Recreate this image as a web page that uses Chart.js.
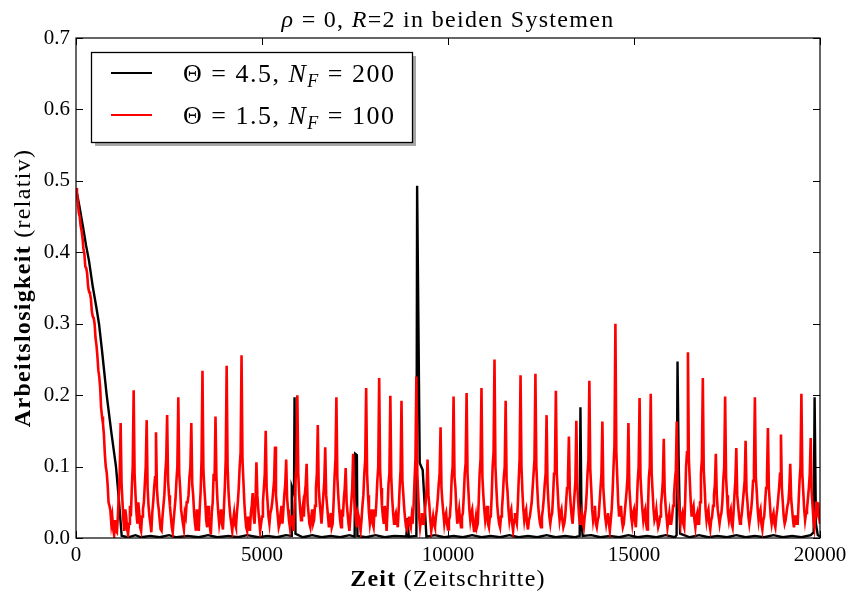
<!DOCTYPE html>
<html>
<head>
<meta charset="utf-8">
<script src="https://cdn.jsdelivr.net/npm/chart.js@4.4.0/dist/chart.umd.min.js"></script>
<style>
  html, body { margin: 0; padding: 0; background: #ffffff; }
  #wrap { width: 849px; height: 596px; position: relative; }
</style>
</head>
<body>
<div id="wrap"><canvas id="c" width="849" height="596"></canvas></div>
<script>
// Unemployment share over time for two parameter sets.

// Red run: one value every 25 time steps, from t = 0 to t = 20000 (40 values per row of 1000 steps).
const redStep = 25;
const redValues = [
  0.49,0.482,0.47,0.455,0.45,0.437,0.43,0.42,0.405,0.398,0.38,0.378,0.37,0.352,0.345,0.342,0.335,0.318,0.31,0.308,
  0.30,0.28,0.27,0.255,0.235,0.226,0.21,0.182,0.17,0.16,0.145,0.118,0.10,0.092,0.075,0.05,0.045,0.038,0.02,0.03,

  0.012,0.004,0.025,0.01,0.008,0.03,0.06,0.09,0.161,0.075,0.05,0.025,0.01,0.04,0.03,0.012,0.005,0.02,0.045,0.03,
  0.07,0.1,0.207,0.09,0.06,0.035,0.02,0.05,0.035,0.015,0.01,0.03,0.04,0.05,0.075,0.1,0.165,0.07,0.045,0.03,

  0.02,0.008,0.035,0.05,0.07,0.085,0.148,0.07,0.05,0.04,0.025,0.012,0.01,0.03,0.045,0.06,0.09,0.11,0.172,0.08,
  0.06,0.045,0.03,0.015,0.008,0.025,0.04,0.055,0.08,0.1,0.197,0.09,0.07,0.04,0.03,0.02,0.012,0.035,0.03,0.05,

  0.05,0.06,0.085,0.1,0.161,0.075,0.06,0.035,0.02,0.01,0.04,0.025,0.01,0.04,0.065,0.11,0.234,0.095,0.07,0.05,
  0.025,0.015,0.045,0.03,0.015,0.005,0.035,0.05,0.09,0.08,0.17,0.085,0.055,0.035,0.02,0.03,0.04,0.02,0.012,0.04,

  0.07,0.11,0.241,0.1,0.065,0.045,0.03,0.02,0.01,0.025,0.035,0.02,0.015,0.035,0.05,0.07,0.1,0.12,0.256,0.11,
  0.08,0.05,0.03,0.015,0.01,0.03,0.02,0.01,0.035,0.045,0.063,0.03,0.02,0.05,0.106,0.06,0.04,0.025,0.01,0.02,

  0.03,0.05,0.07,0.09,0.15,0.07,0.05,0.03,0.02,0.035,0.04,0.05,0.065,0.08,0.128,0.06,0.045,0.03,0.015,0.02,
  0.035,0.045,0.02,0.04,0.06,0.075,0.11,0.055,0.04,0.025,0.015,0.03,0.03,0.02,0.01,0.045,0.08,0.1,0.2,0.09,

  0.06,0.04,0.025,0.035,0.045,0.03,0.06,0.075,0.104,0.05,0.035,0.02,0.015,0.03,0.04,0.02,0.025,0.045,0.07,0.09,
  0.158,0.07,0.05,0.035,0.02,0.04,0.06,0.08,0.127,0.06,0.045,0.03,0.015,0.025,0.035,0.015,0.02,0.05,0.085,0.11,

  0.197,0.085,0.06,0.04,0.025,0.015,0.04,0.03,0.055,0.07,0.098,0.05,0.035,0.02,0.01,0.03,0.05,0.07,0.118,0.06,
  0.04,0.025,0.015,0.035,0.03,0.02,0.01,0.025,0.045,0.06,0.09,0.11,0.21,0.09,0.06,0.035,0.02,0.03,0.04,0.02,

  0.015,0.04,0.03,0.05,0.08,0.1,0.224,0.095,0.07,0.045,0.03,0.02,0.045,0.03,0.01,0.04,0.075,0.09,0.199,0.085,
  0.055,0.035,0.02,0.03,0.035,0.025,0.015,0.04,0.07,0.095,0.192,0.08,0.06,0.04,0.025,0.015,0.012,0.025,0.03,0.02,

  0.015,0.03,0.02,0.045,0.08,0.11,0.226,0.09,0.06,0.03,0.015,0.025,0.035,0.02,0.02,0.035,0.05,0.07,0.11,0.06,
  0.045,0.025,0.01,0.02,0.03,0.02,0.015,0.03,0.04,0.055,0.075,0.09,0.155,0.07,0.05,0.035,0.02,0.03,0.035,0.02,

  0.012,0.025,0.03,0.05,0.085,0.1,0.198,0.085,0.07,0.04,0.02,0.03,0.04,0.025,0.015,0.03,0.035,0.06,0.09,0.105,
  0.203,0.09,0.065,0.04,0.025,0.035,0.04,0.02,0.01,0.02,0.03,0.015,0.02,0.05,0.09,0.11,0.21,0.085,0.06,0.04,

  0.025,0.035,0.045,0.02,0.015,0.03,0.03,0.06,0.1,0.12,0.25,0.1,0.07,0.045,0.03,0.02,0.015,0.03,0.04,0.06,
  0.085,0.1,0.192,0.08,0.065,0.04,0.025,0.035,0.04,0.02,0.01,0.025,0.035,0.025,0.02,0.045,0.08,0.11,0.228,0.1,

  0.065,0.04,0.025,0.035,0.04,0.02,0.012,0.025,0.03,0.04,0.05,0.07,0.09,0.11,0.23,0.1,0.07,0.045,0.03,0.02,
  0.015,0.03,0.04,0.055,0.075,0.09,0.172,0.075,0.05,0.03,0.02,0.03,0.035,0.06,0.09,0.1,0.206,0.09,0.065,0.04,

  0.025,0.035,0.04,0.025,0.015,0.02,0.03,0.05,0.07,0.085,0.142,0.065,0.045,0.03,0.02,0.04,0.06,0.08,0.164,0.075,
  0.05,0.03,0.02,0.025,0.035,0.02,0.015,0.03,0.04,0.06,0.09,0.11,0.22,0.095,0.07,0.04,0.025,0.035,0.045,0.02,

  0.015,0.025,0.03,0.05,0.07,0.09,0.163,0.07,0.05,0.03,0.02,0.03,0.035,0.02,0.01,0.025,0.04,0.065,0.1,0.13,
  0.3,0.12,0.085,0.05,0.03,0.04,0.045,0.025,0.015,0.02,0.035,0.05,0.065,0.085,0.161,0.07,0.05,0.03,0.02,0.035,

  0.04,0.025,0.015,0.045,0.08,0.1,0.196,0.085,0.06,0.04,0.025,0.035,0.04,0.02,0.012,0.04,0.085,0.1,0.202,0.09,
  0.065,0.04,0.025,0.03,0.04,0.025,0.015,0.02,0.03,0.045,0.06,0.08,0.139,0.065,0.045,0.03,0.015,0.025,0.035,0.02,

  0.02,0.03,0.045,0.06,0.08,0.095,0.163,0.07,0.05,0.035,0.02,0.03,0.035,0.02,0.015,0.05,0.1,0.12,0.26,0.11,
  0.08,0.05,0.03,0.04,0.045,0.025,0.015,0.03,0.035,0.02,0.02,0.05,0.09,0.11,0.224,0.095,0.07,0.04,0.025,0.035,

  0.04,0.02,0.012,0.025,0.03,0.045,0.06,0.075,0.118,0.06,0.04,0.03,0.02,0.03,0.035,0.05,0.08,0.1,0.198,0.085,
  0.06,0.035,0.025,0.035,0.04,0.02,0.015,0.035,0.06,0.08,0.126,0.06,0.045,0.03,0.02,0.025,0.035,0.05,0.065,0.08,

  0.136,0.065,0.05,0.03,0.02,0.03,0.04,0.055,0.08,0.1,0.197,0.085,0.065,0.04,0.025,0.035,0.04,0.02,0.012,0.025,
  0.03,0.05,0.07,0.085,0.154,0.07,0.05,0.03,0.02,0.03,0.035,0.02,0.015,0.03,0.04,0.055,0.07,0.09,0.145,0.07,

  0.05,0.03,0.02,0.025,0.035,0.045,0.05,0.07,0.104,0.055,0.04,0.025,0.015,0.03,0.03,0.02,0.02,0.05,0.08,0.1,
  0.202,0.09,0.065,0.04,0.025,0.035,0.04,0.055,0.07,0.09,0.14,0.065,0.045,0.025,0.015,0.03,0.051,0.04,0.05,0.03,

  0.02
];

// Black run: irregular samples (time step, value).
const blackTimes = [
  0,100,200,269,350,450,550,618,700,825,950,1075,1150,1228,
  1400,1600,1750,2000,2250,2500,2700,3000,3300,3550,3800,4100,4350,4600,4900,5150,5400,5650,
  5780,5800,5860,5875,5900,6100,6350,6600,6850,7100,7350,
  7490,7505,7550,7565,7800,8050,8300,8550,8880,8910,8945,
  9150,9170,9240,9320,9420,9650,9900,10150,10400,10650,10900,11150,11400,11650,11900,
  12150,12400,12650,12900,13150,13400,13540,13560,13590,13620,13850,14100,14350,14600,
  14850,15100,15350,15600,15850,16100,16145,16170,16200,16240,16500,16750,17000,17250,
  17500,17750,18000,18250,18500,18750,19000,19250,19500,19750,19830,19855,19890,19940,20000
];
const blackValues = [
  0.49,0.462,0.432,0.41,0.388,0.352,0.322,0.30,0.262,0.20,0.148,0.10,0.055,0.003,
  0.001,0.004,0.001,0.003,0.001,0.004,0.001,0.003,0.001,0.004,0.001,0.003,0.001,0.004,0.001,0.003,0.001,0.004,
  0.003,0.072,0.062,0.197,0.006,0.001,0.004,0.001,0.003,0.001,0.004,
  0.002,0.118,0.116,0.003,0.001,0.004,0.001,0.003,0.002,0.028,0.002,
  0.003,0.493,0.105,0.095,0.002,0.004,0.001,0.003,0.001,0.004,0.001,0.003,0.001,0.004,0.001,
  0.003,0.001,0.004,0.001,0.003,0.001,0.003,0.183,0.02,0.003,0.004,0.001,0.003,0.001,
  0.004,0.001,0.003,0.001,0.004,0.001,0.004,0.247,0.11,0.006,0.001,0.004,0.001,0.003,
  0.001,0.004,0.001,0.003,0.001,0.004,0.001,0.003,0.001,0.004,0.008,0.197,0.02,0.004,0.002
];

const xTicks = [0, 5000, 10000, 15000, 20000];
const yTicks = [0, 0.1, 0.2, 0.3, 0.4, 0.5, 0.6, 0.7];

const seriesNames = ['Θ = 4.5, N_F = 200', 'Θ = 1.5, N_F = 100'];
const seriesColors = ['#000000', '#ff0000'];

const SERIF = '"Liberation Serif", "DejaVu Serif", serif';

const redData = redValues.map((v, i) => ({ x: i * redStep, y: v }));
const blackData = blackTimes.map((t, i) => ({ x: t, y: blackValues[i] }));

// Text runs with individual fonts, laid out side by side.
function measureRuns(ctx, runs, spacing) {
  let w = 0;
  runs.forEach(r => {
    ctx.font = r.font;
    w += ctx.measureText(r.text).width + spacing * r.text.length;
  });
  return w;
}
function drawRuns(ctx, runs, x, y, spacing) {
  let cx = x;
  runs.forEach(r => {
    ctx.font = r.font;
    for (const ch of r.text) {
      ctx.fillText(ch, cx, y + (r.dy || 0));
      cx += ctx.measureText(ch).width + spacing;
    }
  });
}

// Splits "… N_F …" into runs with an italic N and subscript F.
function legendRuns(label, size) {
  const m = label.match(/^(.*?)N_(\w)(.*)$/);
  return [
    { text: m[1], font: `${size}px ${SERIF}` },
    { text: 'N', font: `italic ${size}px ${SERIF}` },
    { text: m[2], font: `italic ${Math.round(size * 0.7)}px ${SERIF}`, dy: 5 },
    { text: m[3], font: `${size}px ${SERIF}` }
  ];
}

const decorations = {
  id: 'decorations',
  afterDraw(chart) {
    const ctx = chart.ctx;
    const a = chart.chartArea;
    const xs = chart.scales.x, ys = chart.scales.y;
    ctx.save();

    // frame
    ctx.strokeStyle = '#000';
    ctx.lineWidth = 1.2;
    ctx.strokeRect(a.left, a.top, a.right - a.left, a.bottom - a.top);

    // inward ticks on all four sides
    const tl = 7;
    ctx.lineWidth = 1;
    ctx.beginPath();
    xTicks.forEach(v => {
      const px = Math.round(xs.getPixelForValue(v)) + 0.5;
      ctx.moveTo(px, a.bottom); ctx.lineTo(px, a.bottom - tl);
      ctx.moveTo(px, a.top); ctx.lineTo(px, a.top + tl);
    });
    yTicks.forEach(v => {
      const py = Math.round(ys.getPixelForValue(v)) + 0.5;
      ctx.moveTo(a.left, py); ctx.lineTo(a.left + tl, py);
      ctx.moveTo(a.right, py); ctx.lineTo(a.right - tl, py);
    });
    ctx.stroke();

    ctx.fillStyle = '#000';
    ctx.textBaseline = 'alphabetic';
    ctx.textAlign = 'left';

    // title
    const ts = 24;
    const titleRuns = [
      { text: 'ρ', font: `italic ${ts}px ${SERIF}` },
      { text: ' = 0, ', font: `${ts}px ${SERIF}` },
      { text: 'R', font: `italic ${ts}px ${SERIF}` },
      { text: '=2 in beiden Systemen', font: `${ts}px ${SERIF}` }
    ];
    const cxp = (a.left + a.right) / 2;
    let w = measureRuns(ctx, titleRuns, 1.3);
    drawRuns(ctx, titleRuns, cxp - w / 2, 27, 1.3);

    // x axis title
    const as = 24;
    const xRuns = [
      { text: 'Zeit', font: `bold ${as}px ${SERIF}` },
      { text: ' (Zeitschritte)', font: `${as}px ${SERIF}` }
    ];
    w = measureRuns(ctx, xRuns, 1.2);
    drawRuns(ctx, xRuns, cxp - w / 2, 586, 1.2);

    // y axis title
    const yRuns = [
      { text: 'Arbeitslosigkeit', font: `bold ${as}px ${SERIF}` },
      { text: ' (relativ)', font: `${as}px ${SERIF}` }
    ];
    w = measureRuns(ctx, yRuns, 1.3);
    ctx.save();
    ctx.translate(30, (a.top + a.bottom) / 2);
    ctx.rotate(-Math.PI / 2);
    drawRuns(ctx, yRuns, -w / 2, 0, 1.3);
    ctx.restore();

    // legend box with shadow
    const bx = 91, by = 52, bw = 321, bh = 90;
    ctx.fillStyle = 'rgba(0,0,0,0.35)';
    ctx.fillRect(bx + 4, by + 4, bw, bh);
    ctx.fillStyle = '#fff';
    ctx.fillRect(bx, by, bw, bh);
    ctx.strokeStyle = '#000';
    ctx.lineWidth = 1.3;
    ctx.strokeRect(bx + 0.5, by + 0.5, bw, bh);

    const rowsY = [73, 115];
    seriesNames.forEach((name, i) => {
      const yy = rowsY[i];
      ctx.strokeStyle = seriesColors[i];
      ctx.lineWidth = 2;
      ctx.beginPath();
      ctx.moveTo(111, yy); ctx.lineTo(152, yy);
      ctx.stroke();
      ctx.fillStyle = '#000';
      drawRuns(ctx, legendRuns(name, 26), 183, yy + 9, 1.5);
    });

    ctx.restore();
  }
};

new Chart(document.getElementById('c'), {
  type: 'line',
  data: {
    datasets: [
      {
        label: seriesNames[0],
        data: blackData,
        borderColor: seriesColors[0],
        borderWidth: 2.4,
        pointRadius: 0,
        tension: 0,
        order: 1
      },
      {
        label: seriesNames[1],
        data: redData,
        borderColor: seriesColors[1],
        borderWidth: 2.6,
        pointRadius: 0,
        tension: 0,
        order: 0
      }
    ]
  },
  options: {
    responsive: false,
    animation: false,
    devicePixelRatio: 1,
    parsing: false,
    layout: { padding: { left: 0, right: 29, top: 38, bottom: 0 } },
    plugins: {
      legend: { display: false },
      title: { display: false },
      tooltip: { enabled: false }
    },
    scales: {
      x: {
        type: 'linear',
        min: 0,
        max: 20000,
        afterBuildTicks: s => { s.ticks = xTicks.map(v => ({ value: v })); },
        afterFit: s => { s.height = 58; s.paddingLeft = 0; s.paddingRight = 0; },
        grid: { display: false, drawTicks: false },
        border: { display: false },
        ticks: {
          color: '#000',
          font: { family: SERIF, size: 21 },
          padding: 5,
          maxRotation: 0,
          autoSkip: false,
          callback: v => String(v)
        }
      },
      y: {
        type: 'linear',
        min: 0,
        max: 0.7,
        afterBuildTicks: s => { s.ticks = yTicks.map(v => ({ value: v })); },
        afterFit: s => { s.width = 76; s.paddingTop = 0; s.paddingBottom = 0; },
        grid: { display: false, drawTicks: false },
        border: { display: false },
        ticks: {
          color: '#000',
          font: { family: SERIF, size: 21 },
          padding: 6,
          autoSkip: false,
          callback: v => v.toFixed(1)
        }
      }
    }
  },
  plugins: [decorations]
});
</script>
</body>
</html>
